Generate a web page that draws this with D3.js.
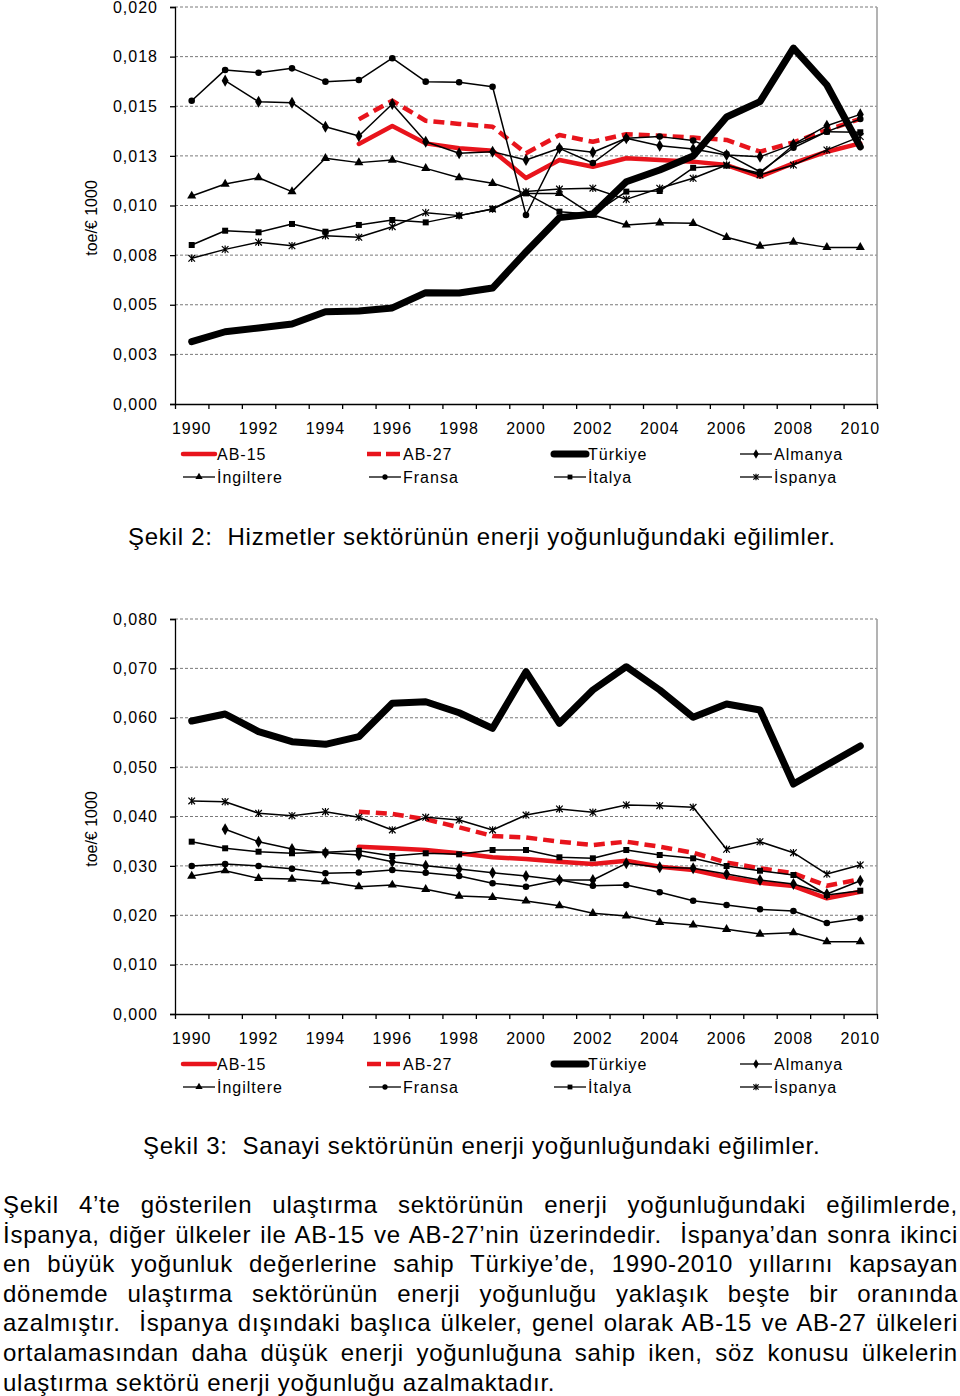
<!DOCTYPE html>
<html><head><meta charset="utf-8">
<script src="https://cdn.jsdelivr.net/npm/d3@7"></script>
<style>html,body{margin:0;padding:0;background:#fff;} svg{display:block;}</style>
</head><body>
<script>
// ---------- DATA ----------
const years = [1990,1991,1992,1993,1994,1995,1996,1997,1998,1999,2000,2001,2002,2003,2004,2005,2006,2007,2008,2009,2010];
const seriesNames = ["AB-15","AB-27","Türkiye","Almanya","İngiltere","Fransa","İtalya","İspanya"];

// Şekil 2: Hizmetler (services)
const hizAB15 = [null,null,null,null,null,0.01310,0.01401,0.01313,0.01288,0.01276,0.01139,0.01229,0.01195,0.01238,0.01229,0.01221,0.01204,0.01145,0.01213,0.01271,0.01313];
const hizAB27 = [null,null,null,null,null,0.01434,0.01528,0.01427,0.01411,0.01397,0.01263,0.01355,0.01321,0.01359,0.01352,0.01342,0.01330,0.01271,0.01318,0.01380,0.01436];
const hizTR   = [0.00314,0.00364,0.00383,0.00403,0.00465,0.00469,0.00484,0.00561,0.00559,0.00584,0.00766,0.00939,0.00957,0.01120,0.01179,0.01249,0.01446,0.01523,0.01793,0.01607,0.01295];
const hizDE   = [null,0.01629,0.01523,0.01518,0.01397,0.01350,0.01511,0.01321,0.01263,0.01271,0.01229,0.01288,0.01268,0.01339,0.01301,0.01285,0.01254,0.01246,0.01308,0.01402,0.01459];
const hizUK   = [0.01048,0.01108,0.01140,0.01070,0.01238,0.01216,0.01229,0.01187,0.01140,0.01112,0.01061,0.01061,0.00952,0.00902,0.00913,0.00910,0.00840,0.00796,0.00816,0.00789,0.00789];
const hizFR   = [0.01528,0.01683,0.01669,0.01691,0.01624,0.01632,0.01742,0.01624,0.01621,0.01598,0.00952,0.01288,0.01214,0.01339,0.01347,0.01327,0.01259,0.01170,0.01291,0.01372,0.01436];
const hizIT   = [0.00801,0.00873,0.00865,0.00907,0.00868,0.00902,0.00927,0.00915,0.00949,0.00982,0.01061,0.00969,0.00956,0.01070,0.01073,0.01190,0.01201,0.01162,0.01305,0.01372,0.01369];
const hizES   = [0.00734,0.00779,0.00815,0.00797,0.00848,0.00840,0.00893,0.00964,0.00949,0.00982,0.01070,0.01083,0.01087,0.01031,0.01087,0.01137,0.01204,0.01154,0.01204,0.01280,0.01347];
const hizTicks = [0,0.0025,0.005,0.0075,0.01,0.0125,0.015,0.0175,0.02];
const hizTickLabels = ["0,000","0,003","0,005","0,008","0,010","0,013","0,015","0,018","0,020"];

// Şekil 3: Sanayi (industry)
const sanAB15 = [null,null,null,null,null,0.03388,0.03356,0.03322,0.03255,0.03174,0.03139,0.03085,0.03038,0.03105,0.02983,0.02916,0.02769,0.02659,0.02592,0.02343,0.02477];
const sanAB27 = [null,null,null,null,null,0.04097,0.04051,0.03945,0.03781,0.03605,0.03575,0.03490,0.03423,0.03490,0.03388,0.03267,0.03068,0.02951,0.02850,0.02598,0.02728];
const sanTR   = [0.05934,0.06076,0.05718,0.05515,0.05462,0.05616,0.06293,0.06325,0.06102,0.05786,0.06933,0.05888,0.06562,0.07034,0.06562,0.06009,0.06278,0.06157,0.04658,0.05043,0.05428];
const sanDE   = [null,0.03741,0.03490,0.03342,0.03267,0.03220,0.03085,0.03004,0.02937,0.02862,0.02795,0.02714,0.02714,0.03052,0.02971,0.02951,0.02835,0.02714,0.02633,0.02430,0.02700];
const sanUK   = [0.02795,0.02902,0.02748,0.02734,0.02679,0.02578,0.02613,0.02526,0.02390,0.02364,0.02289,0.02193,0.02039,0.01985,0.01857,0.01803,0.01715,0.01620,0.01647,0.01464,0.01464];
const sanFR   = [0.02997,0.03038,0.02997,0.02943,0.02850,0.02866,0.02916,0.02862,0.02795,0.02647,0.02578,0.02714,0.02598,0.02613,0.02465,0.02295,0.02208,0.02121,0.02086,0.01843,0.01938];
const sanIT   = [0.03490,0.03356,0.03287,0.03255,0.03275,0.03307,0.03200,0.03255,0.03234,0.03322,0.03322,0.03174,0.03153,0.03322,0.03220,0.03153,0.02997,0.02902,0.02815,0.02410,0.02497];
const sanES   = [0.04314,0.04300,0.04065,0.04016,0.04097,0.03984,0.03727,0.03984,0.03929,0.03727,0.04030,0.04152,0.04085,0.04233,0.04219,0.04186,0.03336,0.03490,0.03267,0.02835,0.03018];
const sanTicks = [0,0.01,0.02,0.03,0.04,0.05,0.06,0.07,0.08];
const sanTickLabels = ["0,000","0,010","0,020","0,030","0,040","0,050","0,060","0,070","0,080"];

const yTitle = "toe/€ 1000";
const caption2 = "Şekil 2:  Hizmetler sektörünün enerji yoğunluğundaki eğilimler.";
const caption3 = "Şekil 3:  Sanayi sektörünün enerji yoğunluğundaki eğilimler.";
const paraLines = [
 "Şekil 4’te gösterilen ulaştırma sektörünün enerji yoğunluğundaki eğilimlerde,",
 "İspanya, diğer ülkeler ile AB-15 ve AB-27’nin üzerindedir.  İspanya’dan sonra ikinci",
 "en büyük yoğunluk değerlerine sahip Türkiye’de, 1990-2010 yıllarını kapsayan",
 "dönemde ulaştırma sektörünün enerji yoğunluğu yaklaşık beşte bir oranında",
 "azalmıştır.  İspanya dışındaki başlıca ülkeler, genel olarak AB-15 ve AB-27 ülkeleri",
 "ortalamasından daha düşük enerji yoğunluğuna sahip iken, söz konusu ülkelerin",
 "ulaştırma sektörü enerji yoğunluğu azalmaktadır."
];

// ---------- STYLE ----------
const FONT = "'Liberation Sans', Arial, Helvetica, sans-serif";
const RED = "#e8141c";
const styles = [
  {color:RED, width:4.5, dash:null, marker:null},
  {color:RED, width:4.5, dash:"11,6", marker:null},
  {color:"#000", width:7, dash:null, marker:null},
  {color:"#000", width:1.5, dash:null, marker:"diamond"},
  {color:"#000", width:1.5, dash:null, marker:"triangle"},
  {color:"#000", width:1.5, dash:null, marker:"circle"},
  {color:"#000", width:1.5, dash:null, marker:"square"},
  {color:"#000", width:1.5, dash:null, marker:"star"}
];

const W = 960, H = 1396;
const svg = d3.select("body").append("svg").attr("width", W).attr("height", H)
  .style("font-family", FONT);

const X0 = 175, X1 = 877;
const x = d3.scaleBand().domain(years).range([X0, X1]).padding(0);
const xEdge = d3.scaleLinear().domain([years[0]-0.5, years[years.length-1]+0.5]).range([X0, X1]);

function drawMarker(g, type, cx, cy, scale) {
  const s = scale || 1;
  if (type === "star") {
    const r = 3.3*s;
    g.append("path")
      .attr("d", `M${cx-r},${cy-r}L${cx+r},${cy+r}M${cx-r},${cy+r}L${cx+r},${cy-r}M${cx},${cy-r-0.5}L${cx},${cy+r+0.5}`)
      .attr("stroke", "#000").attr("stroke-width", 1.2).attr("fill", "none");
    return;
  }
  const map = {diamond:[d3.symbolDiamond, 42], triangle:[d3.symbolTriangle, 36], circle:[d3.symbolCircle, 34], square:[d3.symbolSquare, 36]};
  const [sym, size] = map[type];
  g.append("path").attr("d", d3.symbol(sym, size*s*s)())
    .attr("transform", `translate(${cx},${cy})`).attr("fill", "#000");
}

function drawChart(cfg) {
  const g = svg.append("g");
  const y = d3.scaleLinear().domain([0, cfg.ticks[cfg.ticks.length-1]]).range([cfg.bottom, cfg.top]);

  // gridlines
  g.append("g").selectAll("line").data(cfg.ticks.filter(t => t > 0)).join("line")
    .attr("x1", X0).attr("x2", X1).attr("y1", d => y(d)).attr("y2", d => y(d))
    .attr("stroke", "#7a7a7a").attr("stroke-width", 1).attr("stroke-dasharray", "3,2");
  // right border
  g.append("line").attr("x1", X1).attr("x2", X1).attr("y1", cfg.top).attr("y2", cfg.bottom)
    .attr("stroke", "#9a9a9a").attr("stroke-width", 1.5);

  // y axis
  const yAxis = g.append("g").attr("transform", `translate(${X0},0)`)
    .call(d3.axisLeft(y).tickValues(cfg.ticks).tickFormat((d,i) => cfg.labels[i]).tickSize(5).tickPadding(12));
  yAxis.select(".domain").attr("stroke", "#000").attr("stroke-width", 1.3);
  yAxis.selectAll(".tick line").attr("stroke", "#000").attr("stroke-width", 1.3);
  yAxis.selectAll("text").style("font-family", FONT).style("font-size", "16px").style("letter-spacing", "1px").attr("fill", "#000");

  // x axis: tick marks at category boundaries
  const edgeTicks = d3.range(years.length + 1).map(i => years[0] - 0.5 + i);
  const xAxis = g.append("g").attr("transform", `translate(0,${cfg.bottom})`)
    .call(d3.axisBottom(xEdge).tickValues(edgeTicks).tickFormat("").tickSize(5).tickSizeOuter(0));
  xAxis.select(".domain").attr("stroke", "#000").attr("stroke-width", 1.3);
  xAxis.selectAll(".tick line").attr("stroke", "#000").attr("stroke-width", 1.3);
  const xLab = g.append("g").attr("transform", `translate(0,${cfg.bottom})`)
    .call(d3.axisBottom(x).tickValues(years.filter(v => v % 2 === 0)).tickSize(0).tickPadding(19));
  xLab.select(".domain").remove();
  xLab.selectAll("text").style("font-family", FONT).style("font-size", "16px").style("letter-spacing", "1px").attr("fill", "#000");

  // y title
  g.append("text").attr("transform", `translate(97,${cfg.titleY}) rotate(-90)`)
    .attr("text-anchor", "middle").style("font-size", "16px").text(yTitle);

  // series
  const line = d3.line().defined(d => d.v != null)
    .x(d => x(d.yr) + x.bandwidth()/2).y(d => y(d.v));
  cfg.series.forEach((vals, si) => {
    const st = styles[si];
    const pts = vals.map((v, i) => ({yr: years[i], v}));
    g.append("path").datum(pts).attr("d", line).attr("fill", "none")
      .attr("stroke", st.color).attr("stroke-width", st.width)
      .attr("stroke-dasharray", st.dash).attr("stroke-linejoin", "round")
      .attr("stroke-linecap", st.dash ? "butt" : "round");
    if (st.marker) {
      const mg = g.append("g");
      pts.filter(p => p.v != null).forEach(p => drawMarker(mg, st.marker, x(p.yr) + x.bandwidth()/2, y(p.v)));
    }
  });

  // legend
  const colX = [181, 367, 552, 738];
  seriesNames.forEach((name, i) => {
    const st = styles[i];
    const cx = colX[i % 4];
    const cy = cfg.legendY + Math.floor(i / 4) * 23;
    const lg = g.append("g");
    if (st.marker) {
      lg.append("line").attr("x1", cx + 2).attr("x2", cx + 34).attr("y1", cy).attr("y2", cy)
        .attr("stroke", "#000").attr("stroke-width", 1.3);
      drawMarker(lg, st.marker, cx + 18, cy, 0.8);
    } else {
      lg.append("line").attr("x1", cx + (st.dash ? 0 : 2)).attr("x2", cx + 34).attr("y1", cy).attr("y2", cy)
        .attr("stroke", st.color).attr("stroke-width", st.width)
        .attr("stroke-dasharray", st.dash ? "14,5" : null)
        .attr("stroke-linecap", st.dash ? "butt" : "round");
    }
    lg.append("text").attr("x", cx + 36).attr("y", cy + 6).style("font-size", "16px")
      .style("letter-spacing", "1px").text(name);
  });

  // caption
  svg.append("text").attr("x", cfg.capX).attr("y", cfg.capY).style("font-size", "24px")
    .style("letter-spacing", "0.75px").style("white-space", "pre").text(cfg.caption);
}

drawChart({top: 7, bottom: 404, ticks: hizTicks, labels: hizTickLabels, titleY: 218,
  series: [hizAB15, hizAB27, hizTR, hizDE, hizUK, hizFR, hizIT, hizES],
  legendY: 454, caption: caption2, capX: 128, capY: 545});

drawChart({top: 619, bottom: 1014, ticks: sanTicks, labels: sanTickLabels, titleY: 829,
  series: [sanAB15, sanAB27, sanTR, sanDE, sanUK, sanFR, sanIT, sanES],
  legendY: 1064, caption: caption3, capX: 143, capY: 1154});

// paragraph (justified lines)
const para = svg.append("g");
paraLines.forEach((t, i) => {
  const tx = para.append("text").attr("x", 3).attr("y", 1213 + i * 29.6)
    .style("font-size", "24px").style("letter-spacing", "0.75px").style("white-space", "pre").text(t);
  if (i < paraLines.length - 1) {
    const w = tx.node().getComputedTextLength();
    const n = (t.match(/ /g) || []).length;
    tx.attr("word-spacing", ((955 - w) / n).toFixed(2));
  }
});
</script>
</body></html>
